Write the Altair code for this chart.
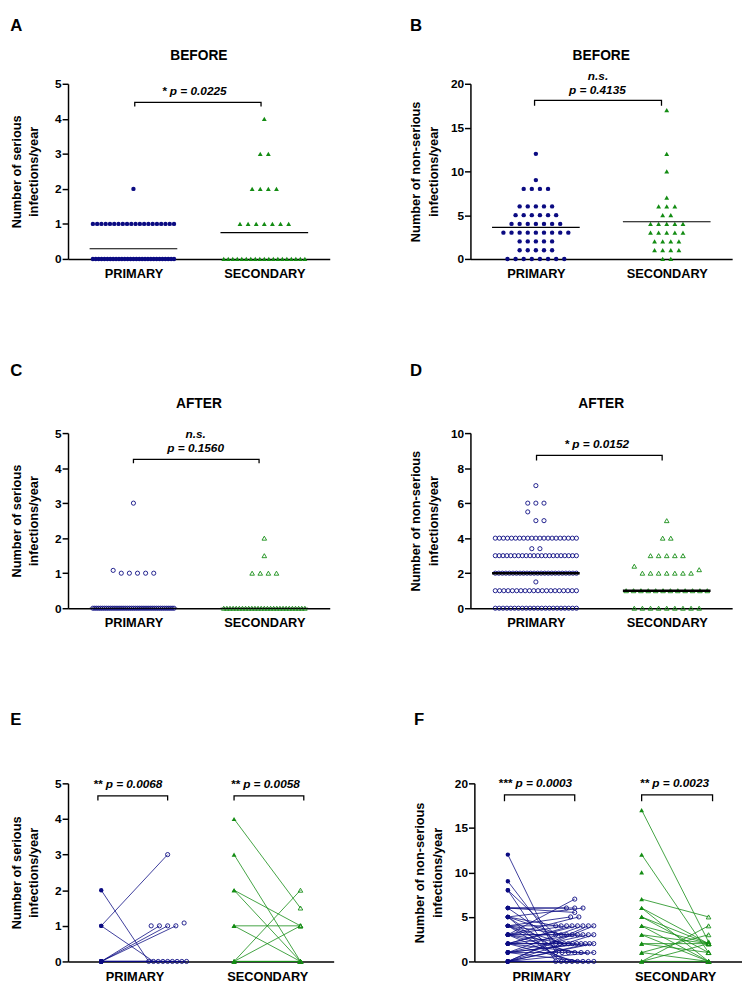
import altair as alt
import pandas as pd

FONT = "Liberation Sans"
NAVY = "#0b0b82"
GREEN = "#138c13"

CATEGORIES = ["PRIMARY", "SECONDARY"]

# ---------------- Panel A : serious infections / year, BEFORE ----------------
A_PRI_ROWS = [[2], [1] * 20, [0] * 29]
A_SEC_ROWS = [[4], [3] * 2, [2] * 4, [1] * 7, [0] * 19]
A_CENTER = [0.29, 0.75]
A_TEXT = [(1.93, 4.78, "* p = 0.0225")]
A_BRACKET = [(1.02, 2.95, 4.47, 4.35)]

# ---------------- Panel B : non-serious infections / year, BEFORE -------------
B_PRI_ROWS = [[12], [9], [8] * 4, [6] * 5, [5] * 6, [4] * 7, [3] * 9, [2] * 5, [1] * 5, [0] * 8]
B_SEC_ROWS = [[17], [12], [10], [7], [6] * 3, [5] * 2, [4] * 5, [3] * 5, [2] * 4, [1] * 4, [0] * 2]
B_CENTER = [3.6, 4.25]
B_TEXT = [(1.95, 20.9, "n.s."), (1.94, 19.3, "p = 0.4135")]
B_BRACKET = [(0.98, 2.92, 18.1, 17.5)]

# ---------------- Panel C : serious infections / year, AFTER ------------------
C_PRI_ROWS = [[3], [1.08, 1, 1, 1, 1, 1], [0] * 43]
C_SEC_ROWS = [[2], [1.5], [1] * 4, [0] * 27]
C_CENTER = [0, 0]
C_TEXT = [(1.95, 4.97, "n.s."), (1.95, 4.58, "p = 0.1560")]
C_BRACKET = [(1.0, 2.92, 4.25, 4.14)]

# ---------------- Panel D : non-serious infections / year, AFTER --------------
D_PRI_ROWS = [[7], [6] * 3, [5.5, 5, 5], [4] * 21, [3.4, 3.4], [3] * 22, [2] * 24,
              [1.5], [1] * 20, [0] * 22]
D_SEC_ROWS = [[5], [4] * 2, [3] * 5, [2.4, 2, 2, 2, 2, 2, 2, 2, 2.2], [1] * 12, [0] * 9]
D_CENTER = [2, 1]
D_TEXT = [(1.93, 9.4, "* p = 0.0152")]
D_BRACKET = [(1.01, 2.93, 8.73, 8.44)]

# ---------------- Panel E : paired serious (before, after) --------------------
E_PRI_PAIRS = [(2, 0), (1, 3), (1, 0), (None, 1), (0, 1), (0, 1), (0, 1), (None, 1.08),
               (0, 0), (0, 0), (0, 0), (0, 0), (0, 0), (0, 0), (0, 0)]
E_SEC_PAIRS = [(4, 1.5), (3, 0), (2, 1), (2, 0), (1, 1), (1, 0), (0, 2), (0, 1),
               (0, 0), (0, 0), (0, 0)]
E_TEXT = [(0.9, 4.97, "** p = 0.0068"), (2.97, 4.97, "** p = 0.0058")]
E_BRACKET = [(0.45, 1.5, 4.65, 4.52), (2.5, 3.55, 4.65, 4.52)]

# ---------------- Panel F : paired non-serious (before, after) ----------------
F_PRI_PAIRS = [(12, 1), (9, 2), (8, 3), (8, 0),
               (6, 6), (6, 6), (6, 5.5), (6, 2),
               (5, 6), (5, 4), (5, 3), (5, 1), (5, 0),
               (4, 5), (4, 4), (4, 3), (4, 2), (4, 1), (4, 0),
               (3, 7), (3, 5), (3, 4), (3, 3), (3, 3), (3, 2), (3, 1), (3, 0),
               (2, 4), (2, 4), (2, 3), (2, 2), (2, 2), (2, 1), (2, 0),
               (1, 4), (1, 3), (1, 2), (1, 2), (1, 1), (1, 0),
               (0, 4), (0, 4), (0, 3), (0, 2), (0, 2), (0, 1), (0, 0), (0, 0)]
F_SEC_PAIRS = [(17, 2.2), (12, 1), (10, None), (7, 5), (6, 2), (6, 0), (5, 2), (5, 1),
               (4, 2), (4, 0), (3, 2), (3, 0), (2, 2), (2, 1), (1, 3), (1, 0),
               (0, 4), (0, 2), (0, 0)]
F_TEXT = [(0.91, 20.0, "*** p = 0.0003"), (2.99, 20.0, "** p = 0.0023")]
F_BRACKET = [(0.45, 1.5, 18.7, 18.0), (2.5, 3.56, 18.7, 18.0)]

SP = 0.124     # point spacing in x units
CAP = 1.24     # widest row in x units (dot plots)
CAP_PAIR = 0.57


def swarm(rows, center, sp, cap):
    out = []
    for row in rows:
        n = len(row)
        s = sp if n <= 1 else min(sp, cap / (n - 1))
        for i, v in enumerate(row):
            out.append({"x": center + (i - (n - 1) / 2) * s, "y": v})
    return out


def x_axis():
    return alt.Axis(values=[1, 3], labelExpr="datum.value == 1 ? 'PRIMARY' : 'SECONDARY'",
                    title=None, ticks=False, grid=False, domainColor="black", domainWidth=1.5,
                    labelFont=FONT, labelFontSize=13, labelFontWeight="bold", labelColor="black",
                    labelPadding=9, labelFlush=False)


def y_axis(title, values, tp):
    return alt.Axis(title=title, values=values, grid=False, domainColor="black", domainWidth=1.5,
                    tickColor="black", tickWidth=1.5, tickSize=6, labelFont=FONT, labelFontSize=12,
                    labelFontWeight="bold", labelColor="black", labelPadding=1, titleFont=FONT,
                    titleFontSize=13, titleFontWeight="bold", titleColor="black",
                    titleLineHeight=18, titlePadding=tp, labelOverlap=False)


def enc(ymax, yvals, ytitle, tp):
    X = alt.X("x:Q", scale=alt.Scale(domain=[0, 4], nice=False, zero=False), axis=x_axis())
    Y = alt.Y("y:Q", scale=alt.Scale(domain=[0, ymax], nice=False), axis=y_axis(ytitle, yvals, tp))
    return X, Y


def annotations(X, Y, texts, brackets):
    tdf = pd.DataFrame([{"x": a, "y": b, "t": c} for a, b, c in texts])
    text = alt.Chart(tdf).mark_text(font=FONT, fontSize=12, fontWeight="bold", fontStyle="italic",
                                    color="black", baseline="middle").encode(x=X, y=Y, text="t:N")
    rows = []
    for k, (x1, x2, yb, yt) in enumerate(brackets):
        for o, (xx, yy) in enumerate([(x1, yt), (x1, yb), (x2, yb), (x2, yt)]):
            rows.append({"x": xx, "y": yy, "b": k, "o": o})
    br = alt.Chart(pd.DataFrame(rows)).mark_line(color="black", strokeWidth=1.3).encode(
        x=X, y=Y, detail="b:N", order="o:Q")
    return [br, text]


def dot_panel(pri_rows, sec_rows, centers, ymax, yvals, ytitle, tp, filled, texts, brackets,
              cwidth, title, toff, h=178):
    X, Y = enc(ymax, yvals, ytitle, tp)
    pri = pd.DataFrame(swarm(pri_rows, 1, SP, CAP))
    sec = pd.DataFrame(swarm(sec_rows, 3, SP, CAP))
    if filled:
        pm = alt.Chart(pri).mark_point(shape="circle", filled=True, size=20, color=NAVY, opacity=1)
        sm = alt.Chart(sec).mark_point(shape="triangle-up", filled=True, size=24, color=GREEN, opacity=1)
    else:
        pm = alt.Chart(pri).mark_point(shape="circle", filled=False, size=18, color=NAVY,
                                       strokeWidth=0.9, opacity=1)
        sm = alt.Chart(sec).mark_point(shape="triangle-up", filled=False, size=22, color=GREEN,
                                       strokeWidth=0.9, opacity=1)
    cdf = pd.DataFrame([{"x": c - 0.67, "x2": c + 0.67, "y": v} for c, v in zip([1, 3], centers)])
    cl = alt.Chart(cdf).mark_rule(color="black", strokeWidth=cwidth).encode(x=X, x2="x2:Q", y=Y)
    layers = [pm.encode(x=X, y=Y), sm.encode(x=X, y=Y), cl] + annotations(X, Y, texts, brackets)
    return alt.layer(*layers).properties(
        width=266, height=h,
        title=alt.TitleParams(title, anchor="middle", frame="group", font=FONT, fontSize=14,
                              fontWeight="bold", color="black", offset=toff))


def pair_panel(pri_pairs, sec_pairs, ymax, yvals, ytitle, tp, texts, brackets, w):
    X, Y = enc(ymax, yvals, ytitle, tp)
    pts = {k: [] for k in ["pb", "pa", "sb", "sa"]}
    lines = []
    for gname, pairs, slot, spread in [("p", pri_pairs, 0.5, True), ("s", sec_pairs, 2.5, False)]:
        rows = {}
        for i, (b, a) in enumerate(pairs):
            if a is None:
                continue
            key = round(a) if abs(a - round(a)) < 0.25 else a
            rows.setdefault(key, []).append(i)
        apos = {}
        for key, idx in rows.items():
            n = len(idx)
            if spread:
                s = SP if n <= 1 else min(SP, CAP_PAIR / (n - 1))
            else:
                s = 0
            for j, i in enumerate(idx):
                apos[i] = slot + 1 + (j - (n - 1) / 2) * s
        for i, (b, a) in enumerate(pairs):
            pid = f"{gname}{i}"
            if b is not None:
                pts[gname + "b"].append({"x": slot, "y": b})
            if a is not None:
                pts[gname + "a"].append({"x": apos[i], "y": a})
            if b is not None and a is not None:
                lines.append({"x": slot, "y": b, "pid": pid, "g": gname})
                lines.append({"x": apos[i], "y": a, "pid": pid, "g": gname})
    ldf = pd.DataFrame(lines)
    lp = alt.Chart(ldf[ldf.g == "p"]).mark_line(color=NAVY, strokeWidth=0.8).encode(
        x=X, y=Y, detail="pid:N")
    ls = alt.Chart(ldf[ldf.g == "s"]).mark_line(color=GREEN, strokeWidth=0.8).encode(
        x=X, y=Y, detail="pid:N")
    pb = alt.Chart(pd.DataFrame(pts["pb"])).mark_point(shape="circle", filled=True, size=20,
                                                       color=NAVY, opacity=1).encode(x=X, y=Y)
    pa = alt.Chart(pd.DataFrame(pts["pa"])).mark_point(shape="circle", filled=False, size=18,
                                                       color=NAVY, strokeWidth=0.9, opacity=1).encode(x=X, y=Y)
    sb = alt.Chart(pd.DataFrame(pts["sb"])).mark_point(shape="triangle-up", filled=True, size=24,
                                                       color=GREEN, opacity=1).encode(x=X, y=Y)
    sa = alt.Chart(pd.DataFrame(pts["sa"])).mark_point(shape="triangle-up", filled=False, size=22,
                                                       color=GREEN, strokeWidth=0.9, opacity=1).encode(x=X, y=Y)
    layers = [lp, ls, pb, pa, sb, sa] + annotations(X, Y, texts, brackets)
    return alt.layer(*layers).properties(width=w, height=181)


def lettered(panel, letter, offset):
    return alt.vconcat(panel).properties(
        title=alt.TitleParams(letter, anchor="start", frame="bounds", font=FONT, fontSize=17,
                              fontWeight="bold", color="black", offset=offset))


SER = ["Number of serious", "infections/year"]
NON = ["Number of non-serious", "infections/year"]

pA = dot_panel(A_PRI_ROWS, A_SEC_ROWS, A_CENTER, 5, [0, 1, 2, 3, 4, 5], SER, 14, True,
               A_TEXT, A_BRACKET, 1.2, "BEFORE", 15)
pB = dot_panel(B_PRI_ROWS, B_SEC_ROWS, B_CENTER, 20, [0, 5, 10, 15, 20], NON, 10, True,
               B_TEXT, B_BRACKET, 1.2, "BEFORE", 7)
pC = dot_panel(C_PRI_ROWS, C_SEC_ROWS, C_CENTER, 5, [0, 1, 2, 3, 4, 5], SER, 14, False,
               C_TEXT, C_BRACKET, 1.2, "AFTER", 17)
pD = dot_panel(D_PRI_ROWS, D_SEC_ROWS, D_CENTER, 10, [0, 2, 4, 6, 8, 10], NON, 10, False,
               D_TEXT, D_BRACKET, 2.6, "AFTER", 17)
pE = pair_panel(E_PRI_PAIRS, E_SEC_PAIRS, 5, [0, 1, 2, 3, 4, 5], SER, 14, E_TEXT, E_BRACKET, 270)
pF = pair_panel(F_PRI_PAIRS, F_SEC_PAIRS, 20, [0, 5, 10, 15, 20], NON, 10, F_TEXT, F_BRACKET, 272)

row1 = alt.hconcat(lettered(pA, "A", 15), lettered(pB, "B", 15), spacing=81)
row2 = alt.hconcat(lettered(pC, "C", 17), lettered(pD, "D", 17), spacing=81)
row3 = alt.hconcat(lettered(pE, "E", 49), lettered(pF, "F", 49), spacing=81)

chart = alt.vconcat(row1, row2, row3, spacing=83).properties(
    padding={"left": 2, "top": 0, "right": 0, "bottom": 0}
).configure_view(stroke=None).configure_concat(spacing=0)

chart.save("out.html", embed_options={"renderer": "svg", "actions": False})
